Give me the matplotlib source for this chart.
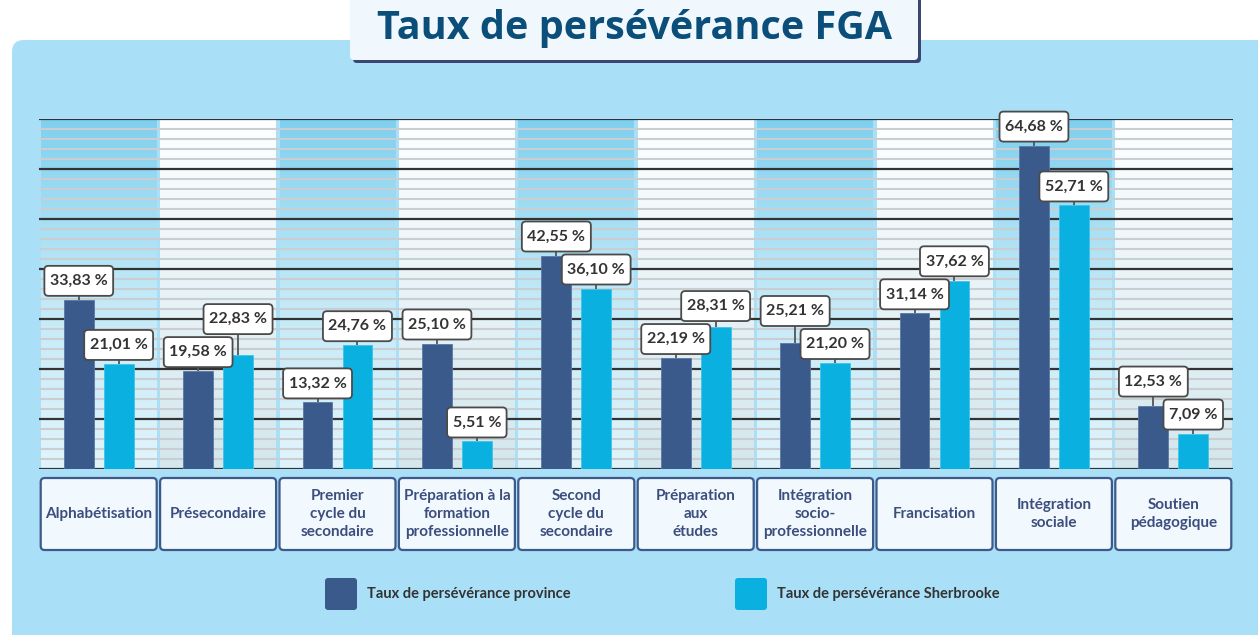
import matplotlib
matplotlib.use('Agg')
import matplotlib.pyplot as plt
import matplotlib.transforms as mtransforms
import numpy as np
from matplotlib.patches import FancyBboxPatch
from matplotlib.colors import LinearSegmentedColormap

# ---------------- data ----------------
categories = ["Alphabétisation", "Présecondaire", "Premier\ncycle du\nsecondaire",
              "Préparation à la\nformation\nprofessionnelle", "Second\ncycle du\nsecondaire",
              "Préparation\naux\nétudes", "Intégration\nsocio-\nprofessionnelle",
              "Francisation", "Intégration\nsociale", "Soutien\npédagogique"]
province = [33.83, 19.58, 13.32, 25.10, 42.55, 22.19, 25.21, 31.14, 64.68, 12.53]
sherbrooke = [21.01, 22.83, 24.76, 5.51, 36.10, 28.31, 21.20, 37.62, 52.71, 7.09]
series_names = ["Taux de persévérance province", "Taux de persévérance Sherbrooke"]
title = "Taux de persévérance FGA"
y_max = 70

# ---------------- style ----------------
W, H = 1258, 635
C_PANEL = '#A9E0F8'
C_PROV = '#3A5A8C'
C_SHER = '#0AB0E0'
C_TITLE = '#0C4E7A'
C_CAT = '#3C4E7E'
C_VAL = '#333333'
FONT = ['Lato', 'DejaVu Sans']

fig = plt.figure(figsize=(W / 100, H / 100), dpi=100)
fig.patch.set_facecolor('white')
# pixel transform with origin at top-left
PX = mtransforms.Affine2D().scale(1 / W, -1 / H).translate(0, 1) + fig.transFigure

def px_box(x, y, w, h, fc, ec='none', lw=0, r=4, z=1):
    p = FancyBboxPatch((x, y), w, h, boxstyle=f'round,pad=0,rounding_size={r}',
                       fc=fc, ec=ec, lw=lw, transform=PX, zorder=z)
    fig.add_artist(p)
    return p

# background panel
px_box(12, 40, 1300, 640, C_PANEL, r=12, z=-5)

# ---------------- axes ----------------
left, right, top, bottom = 39, 1233, 119, 469
ax = fig.add_axes([left / W, 1 - bottom / H, (right - left) / W, (bottom - top) / H])
ax.set_xlim(-0.5, len(categories) - 0.5)
ax.set_ylim(0, y_max)
ax.axis('off')
ax.patch.set_alpha(0)

unit_px = (right - left) / len(categories)
col_half = (116 / unit_px) / 2

cm_blue = LinearSegmentedColormap.from_list('b', ['#E2F4FB', '#C2E9F7', '#7FD0EF'])
cm_white = LinearSegmentedColormap.from_list('w', ['#D3E7ED', '#E8F3F7', '#FFFFFF'])
grad = np.linspace(0, 1, 256).reshape(-1, 1)
x = np.arange(len(categories))
for i in x:
    cmap = cm_blue if i % 2 == 0 else cm_white
    ax.imshow(grad, cmap=cmap, origin='lower', aspect='auto',
              extent=[i - col_half, i + col_half, 0, y_max], zorder=0)

# grid lines
for v in range(0, y_max + 1, 2):
    if v % 10 == 0:
        ax.axhline(v, color='#333333', lw=1.6, zorder=1.5)
    else:
        ax.axhline(v, color='#C9CED3', lw=1.5, zorder=1)

bw = 0.25
off = 0.167
ax.bar(x - off, province, width=bw, color=C_PROV, edgecolor='#5A77A6', lw=0.6, zorder=2)
ax.bar(x + off, sherbrooke, width=bw, color=C_SHER, edgecolor='#3CC4EA', lw=0.6, zorder=2)

# value labels
px_per_unit = (bottom - top) / y_max
box_h = 30 / px_per_unit
gap0 = 4 / px_per_unit
gap1 = 3 / px_per_unit

def fmt(v):
    return f"{v:.2f}".replace('.', ',') + " %"

texts = []

def label(xc, v, bb):
    ax.plot([xc, xc], [v, bb], color='#555555', lw=1.3, zorder=3, solid_capstyle='butt')
    t = ax.text(xc, bb + box_h / 2, fmt(v), ha='center', va='center', fontsize=11.5,
                fontweight='bold', color=C_VAL, family=FONT, zorder=5)
    texts.append((t, xc, bb))

for i in x:
    p, s = province[i], sherbrooke[i]
    if p <= s:
        lo_x, lo_v, hi_x, hi_v = i - off, p, i + off, s
    else:
        lo_x, lo_v, hi_x, hi_v = i + off, s, i - off, p
    lo_b = lo_v + gap0
    hi_b = max(hi_v + gap0, lo_b + box_h + gap1)
    label(lo_x, lo_v, lo_b)
    label(hi_x, hi_v, hi_b)

renderer = fig.canvas.get_renderer()
for t, xc, bb in texts:
    ext = t.get_window_extent(renderer)
    w = ext.width + 11
    cx, by = ax.transData.transform((xc, bb))
    patch = FancyBboxPatch((cx - w / 2, by), w, 30,
                           boxstyle='round,pad=0,rounding_size=4', fc='white',
                           ec='#4A4A4A', lw=1.3, transform=mtransforms.IdentityTransform(),
                           zorder=4, clip_on=False)
    ax.add_patch(patch)

# category boxes
for i, cat in enumerate(categories):
    cx = left + (i + 0.5) * unit_px
    px_box(cx - 58, 478, 116, 72, '#F2F9FE', ec='#3D5A8A', lw=1.6, r=4, z=2)
    fig.text(cx / W, 1 - 514 / H, cat, ha='center', va='center', fontsize=11,
             fontweight='bold', color=C_CAT, family=FONT, linespacing=1.4, zorder=3)

# legend
for (lx, name, col) in [(325, series_names[0], C_PROV), (735, series_names[1], C_SHER)]:
    px_box(lx, 578, 32, 32, col, r=3, z=2)
    fig.text((lx + 42) / W, 1 - 594 / H, name, ha='left', va='center', fontsize=10.5,
             fontweight='bold', color=C_VAL, family=FONT, zorder=3)

# title box
px_box(353, -10, 568, 73, '#3B4673', r=4, z=4)
px_box(350, -10, 568, 70, '#F0F8FE', r=4, z=5)
fig.text(635 / W, 1 - 28 / H, title, ha='center', va='center', fontsize=28.5,
         fontweight='bold', color=C_TITLE, family=['Open Sans', 'DejaVu Sans'], zorder=6)

fig.savefig('out.png', dpi=100, facecolor='white')
